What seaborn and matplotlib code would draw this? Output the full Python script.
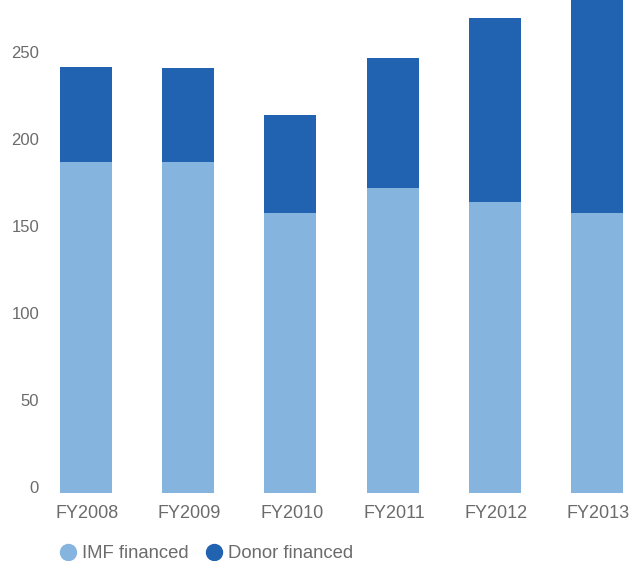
import matplotlib
matplotlib.use("Agg")
import matplotlib.pyplot as plt
import matplotlib.transforms as mtransforms
from matplotlib.lines import Line2D
import seaborn as sns

years = ["FY2008", "FY2009", "FY2010", "FY2011", "FY2012", "FY2013"]
imf_financed = [190, 190, 161, 175, 167, 161]
donor_financed = [55, 54, 56, 75, 106, 130]
y_ticks = [0, 50, 100, 150, 200, 250]

light = "#85b4df"
dark = "#2163b0"
grey = "#6b6b6b"

totals = [a + b for a, b in zip(imf_financed, donor_financed)]

sns.set_style("white")
plt.rcParams["font.family"] = ["Liberation Sans", "DejaVu Sans"]

fig = plt.figure(figsize=(6.31, 5.61), dpi=100)
ax = fig.add_axes([45 / 631, 68 / 561, 586 / 631, 493 / 561])

# stacked bars: totals first (donor colour), IMF part drawn over it
sns.barplot(x=years, y=totals, color=dark, width=0.51, saturation=1,
            linewidth=0, ax=ax)
sns.barplot(x=years, y=imf_financed, color=light, width=0.51, saturation=1,
            linewidth=0, ax=ax)

ax.set_xlim(-0.401, 5.333)
ax.set_ylim(0, 283.3)
ax.set_yticks(y_ticks)
ax.set_yticklabels([str(t) for t in y_ticks])
ax.tick_params(axis="both", length=0, colors=grey, labelsize=13)
ax.tick_params(axis="y", pad=4.3, labelsize=12)
ax.tick_params(axis="x", pad=9)
for lab in ax.get_yticklabels():
    lab.set_transform(lab.get_transform() + mtransforms.ScaledTranslation(0, 6 / 100, fig.dpi_scale_trans))
for lab in ax.get_xticklabels():
    lab.set_transform(lab.get_transform() + mtransforms.ScaledTranslation(1.5 / 100, 0, fig.dpi_scale_trans))
sns.despine(ax=ax, left=True, bottom=True)
ax.set_xlabel("")
ax.set_ylabel("")

handles = [
    Line2D([], [], marker="o", linestyle="", markersize=11.5, color=light),
    Line2D([], [], marker="o", linestyle="", markersize=11.5, color=dark),
]
fig.legend(handles, ["IMF financed", "Donor financed"], loc="center left",
           bbox_to_anchor=(59 / 631, 7 / 561), ncol=2, frameon=False,
           handletextpad=0.25, columnspacing=0.88, handlelength=1.0,
           labelcolor=grey, fontsize=13.3, borderaxespad=0, borderpad=0)

fig.savefig("out.png", dpi=100)
